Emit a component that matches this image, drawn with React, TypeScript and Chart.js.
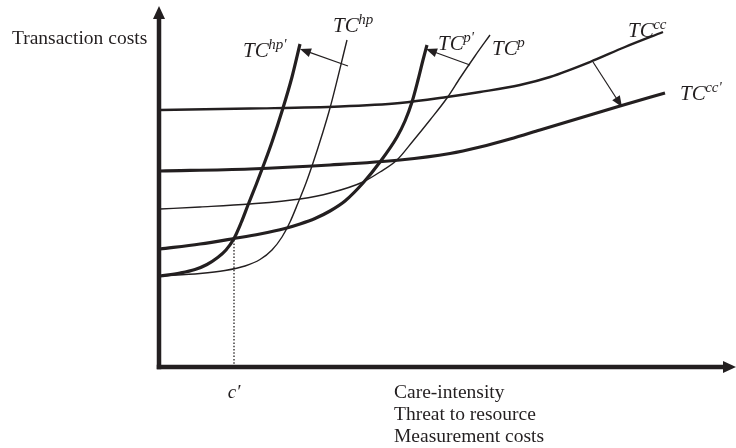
import React, { useEffect, useRef } from "react";
import { Chart, registerables } from "chart.js";

Chart.register(...registerables);

// ---- Data (abstract units: x = care-intensity, y = transaction costs) ----
const ccX = [1, 91, 181, 241, 288, 321, 361, 391, 431, 466, 504];
const ccY = [257, 258.5, 260.5, 264, 270, 275, 282, 290, 305, 320, 335];

const ccPrimeX = [1, 91, 171, 241, 291, 321, 351, 381, 421, 461, 506];
const ccPrimeY = [196, 198, 202, 207, 213.5, 220, 228, 237, 249, 261, 274];

const pX = [1, 41, 91, 141, 171, 204, 221, 238, 254, 271, 288, 301, 316, 331];
const pY = [158, 160, 163, 168, 174, 185, 195, 207, 226, 247, 269, 289, 311, 332];

const pPrimeX = [1, 41, 75, 101, 126, 141, 156, 171, 186, 204, 221, 238, 246, 253, 259, 264, 268];
const pPrimeY = [118, 123, 128.5, 133, 138.5, 143, 148.5, 156, 166, 184, 205, 230, 246, 265, 287, 307, 322];

const hpPrimeX = [1, 21, 36, 48, 58, 67, 75, 82, 89, 97, 105, 113, 124, 133, 141];
const hpPrimeY = [91, 94, 97.5, 102.5, 109, 117, 128.5, 144, 162, 182, 203, 225, 259, 290, 323];

const hpX = [1, 41, 66, 86, 101, 113, 123, 131, 139, 147, 154, 163, 171, 188];
const hpY = [91, 93.5, 96.5, 101, 107.5, 117, 130, 145, 164, 184, 204, 232, 259, 327];

const cPrimeX = [75, 75];
const cPrimeY = [0, 128];

// shift arrows: [fromX, fromY, toX, toY]
const shiftArrows = [
  [189, 301, 141, 318],
  [311, 302, 267, 318],
  [434, 305, 463, 260],
];

// curve labels: main text, superscript, anchor (x, y)
const labelMain = ["TC", "TC", "TC", "TC", "TC", "TC"];
const labelSup = ["hp'", "hp", "p'", "p", "cc", "cc'"];
const labelAnchorX = [84, 174, 279, 333, 469, 521];
const labelAnchorY = [310, 335, 317, 312, 330, 267];

const yAxisTitle = "Transaction costs";
const xAxisTitle = ["Care-intensity", "Threat to resource", "Measurement costs"];
const cPrimeLabel = "c\u2032";

const X_MAX = 577;
const Y_MAX = 361;

const INK = "#231f20";
const SERIF = '"Liberation Serif", "Times New Roman", serif';

const toPoints = (xs: number[], ys: number[]) => xs.map((x, i) => ({ x, y: ys[i] }));

function arrowHead(ctx: CanvasRenderingContext2D, fx: number, fy: number, tx: number, ty: number, len: number, half: number) {
  const a = Math.atan2(ty - fy, tx - fx);
  ctx.beginPath();
  ctx.moveTo(tx, ty);
  ctx.lineTo(tx - len * Math.cos(a) + half * Math.sin(a), ty - len * Math.sin(a) - half * Math.cos(a));
  ctx.lineTo(tx - len * Math.cos(a) - half * Math.sin(a), ty - len * Math.sin(a) + half * Math.cos(a));
  ctx.closePath();
  ctx.fill();
}

const decorPlugin = {
  id: "decor",
  afterDatasetsDraw(chart: any) {
    const ctx: CanvasRenderingContext2D = chart.ctx;
    const xs = chart.scales.x;
    const ys = chart.scales.y;
    const x0 = xs.getPixelForValue(0);
    const y0 = ys.getPixelForValue(0);
    const xEnd = xs.getPixelForValue(X_MAX);
    const yEnd = ys.getPixelForValue(Y_MAX);
    ctx.save();
    ctx.strokeStyle = INK;
    ctx.fillStyle = INK;

    // axes
    ctx.lineWidth = 4.5;
    ctx.lineCap = "butt";
    ctx.beginPath();
    ctx.moveTo(x0, y0 + 2.25);
    ctx.lineTo(x0, yEnd + 10);
    ctx.stroke();
    ctx.beginPath();
    ctx.moveTo(x0 - 2.25, y0);
    ctx.lineTo(xEnd - 10, y0);
    ctx.stroke();
    arrowHead(ctx, x0, y0, x0, yEnd, 13, 6);
    arrowHead(ctx, x0, y0, xEnd, y0, 13, 6);

    // shift arrows
    ctx.lineWidth = 1.2;
    shiftArrows.forEach(([fx, fy, tx, ty]) => {
      const px1 = xs.getPixelForValue(fx);
      const py1 = ys.getPixelForValue(fy);
      const px2 = xs.getPixelForValue(tx);
      const py2 = ys.getPixelForValue(ty);
      const a = Math.atan2(py2 - py1, px2 - px1);
      ctx.beginPath();
      ctx.moveTo(px1, py1);
      ctx.lineTo(px2 - 8 * Math.cos(a), py2 - 8 * Math.sin(a));
      ctx.stroke();
      arrowHead(ctx, px1, py1, px2, py2, 11, 4.5);
    });

    // curve labels
    ctx.textBaseline = "alphabetic";
    ctx.textAlign = "left";
    labelMain.forEach((m, i) => {
      const lx = xs.getPixelForValue(labelAnchorX[i]);
      const ly = ys.getPixelForValue(labelAnchorY[i]);
      ctx.font = `italic 21px ${SERIF}`;
      ctx.fillText(m, lx, ly);
      const w = ctx.measureText(m).width;
      ctx.font = `italic 15px ${SERIF}`;
      ctx.fillText(labelSup[i], lx + w - 0.5, ly - 8);
    });

    // axis titles
    ctx.font = `19.5px ${SERIF}`;
    ctx.fillText(yAxisTitle, 12, 44);
    xAxisTitle.forEach((t, i) => ctx.fillText(t, 394, 398 + i * 22));

    // c' label
    ctx.textAlign = "center";
    ctx.font = `italic 19px ${SERIF}`;
    ctx.fillText(cPrimeLabel, xs.getPixelForValue(cPrimeX[0]), 398);
    ctx.restore();
  },
};

export default function App() {
  const ref = useRef<HTMLCanvasElement | null>(null);
  useEffect(() => {
    document.body.style.margin = "0";
    if (!ref.current) return;
    const mk = (xs: number[], ys: number[], w: number, extra: any = {}) => ({
      data: toPoints(xs, ys),
      borderColor: INK,
      borderWidth: w,
      pointRadius: 0,
      fill: false,
      cubicInterpolationMode: "monotone" as const,
      ...extra,
    });
    const chart = new Chart(ref.current, {
      type: "line",
      data: {
        datasets: [
          mk(cPrimeX, cPrimeY, 1.3, { borderDash: [1.5, 1.8], cubicInterpolationMode: "default", tension: 0 }),
          mk(ccX, ccY, 2.4),
          mk(ccPrimeX, ccPrimeY, 3.2),
          mk(pX, pY, 1.4),
          mk(pPrimeX, pPrimeY, 3.2),
          mk(hpX, hpY, 1.4),
          mk(hpPrimeX, hpPrimeY, 3.2),
        ] as any,
      },
      options: {
        animation: false,
        responsive: false,
        parsing: false as any,
        layout: { padding: { left: 159, right: 0, top: 6, bottom: 81 } },
        scales: {
          x: { type: "linear", min: 0, max: X_MAX, display: false },
          y: { type: "linear", min: 0, max: Y_MAX, display: false },
        },
        plugins: { legend: { display: false }, tooltip: { enabled: false } },
      },
      plugins: [decorPlugin],
    });
    return () => chart.destroy();
  }, []);
  return (
    <div style={{ width: 736, height: 448, background: "#fff" }}>
      <canvas ref={ref} width={736} height={448} style={{ display: "block" }} />
    </div>
  );
}
